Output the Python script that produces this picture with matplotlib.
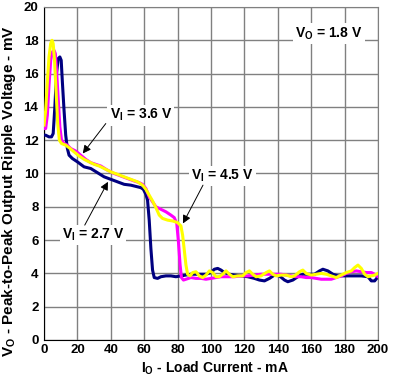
import matplotlib
matplotlib.use("Agg")
import matplotlib.pyplot as plt

plt.rcParams['font.family'] = ['Liberation Sans', 'DejaVu Sans']
plt.rcParams['font.weight'] = 'bold'
plt.rcParams['mathtext.fontset'] = 'custom'
plt.rcParams['mathtext.rm'] = 'Liberation Sans:bold'
plt.rcParams['mathtext.it'] = 'Liberation Sans:bold'
plt.rcParams['mathtext.bf'] = 'Liberation Sans:bold'

# V_I = 2.7 V (navy)
x27 = [0, 1, 3, 4.5, 5.5, 6.5, 7.5, 8.5, 9.5, 10.3, 11, 12, 13, 14, 15, 17, 20, 24, 28, 32, 36, 40, 44, 48, 52, 56, 58, 59.5, 61, 62, 63, 64, 65, 66, 68, 70, 73, 76, 79, 82, 85, 88, 91, 94, 97, 100, 102, 104, 106, 108, 111, 114, 118, 122, 126, 129, 132, 135, 138, 141, 144, 146, 149, 152, 155, 158, 162, 165, 167, 170, 173, 176, 180, 185, 190, 194, 196, 198, 200]
y27 = [12.3, 12.3, 12.2, 12.2, 12.4, 14.0, 16.0, 16.9, 17.0, 16.8, 15.5, 13.8, 12.3, 11.5, 11.1, 10.9, 10.7, 10.4, 10.3, 10.05, 9.8, 9.65, 9.5, 9.35, 9.3, 9.2, 9.15, 9.05, 8.75, 8.4, 7.2, 5.5, 4.2, 3.75, 3.7, 3.8, 3.85, 3.85, 3.8, 3.85, 3.9, 3.95, 3.95, 3.95, 3.95, 4.05, 4.25, 4.3, 4.2, 4.05, 3.95, 3.9, 3.85, 3.8, 3.7, 3.6, 3.55, 3.7, 3.9, 3.85, 3.6, 3.5, 3.6, 3.8, 3.95, 3.95, 3.95, 4.15, 4.25, 4.15, 3.95, 3.85, 3.85, 3.85, 3.85, 3.8, 3.55, 3.55, 3.8]

# V_I = 3.6 V (magenta)
x36 = [0, 1, 2, 3, 4, 5, 6, 6.8, 7.5, 8.5, 9.5, 10.5, 12, 14, 16, 19, 22, 25, 28, 31, 34, 38, 42, 46, 50, 54, 57, 59, 61, 63, 65, 67, 70, 73, 76, 78, 79.5, 80.5, 81.5, 82.3, 83.5, 85, 88, 91, 94, 97, 100, 103, 106, 110, 114, 118, 122, 126, 130, 134, 138, 142, 145, 148, 151, 154, 157, 160, 163, 166, 169, 172, 175, 178, 181, 184, 187, 190, 193, 196, 198, 200]
y36 = [12.7, 12.7, 13.5, 15.3, 16.8, 17.3, 17.4, 17.2, 16.2, 14.5, 12.8, 12.0, 11.8, 11.7, 11.5, 11.35, 11.1, 10.85, 10.65, 10.55, 10.45, 10.2, 10.0, 9.85, 9.7, 9.55, 9.45, 9.35, 9.1, 8.6, 8.3, 8.0, 7.85, 7.7, 7.5, 7.35, 7.0, 5.9, 4.5, 3.75, 3.6, 3.65, 3.75, 3.7, 3.7, 3.65, 3.7, 3.75, 3.8, 3.8, 3.8, 3.85, 3.85, 3.9, 3.95, 3.95, 3.95, 3.95, 3.9, 3.85, 3.8, 3.8, 3.75, 3.75, 3.7, 3.65, 3.65, 3.65, 3.75, 3.85, 4.0, 4.1, 4.15, 4.1, 4.05, 4.05, 3.95, 3.8]

# V_I = 4.5 V (yellow)
x45 = [0, 1, 2, 3, 4, 4.8, 5.5, 6.3, 7.2, 8.2, 9.2, 10.5, 13, 15, 18, 21, 24, 27, 30, 33, 36, 40, 44, 48, 52, 56, 59, 61, 63, 65, 67, 69, 71, 74, 77, 80, 82, 83, 84, 85, 86, 87.5, 89, 91, 93, 95, 97, 99, 101, 103, 105, 107, 109, 111, 113, 116, 119, 121, 123, 125, 127, 130, 133, 135, 137, 139, 142, 145, 148, 150, 153, 155, 157, 160, 163, 166, 169, 172, 175, 178, 181, 184, 186, 188, 190, 192, 194, 196, 198, 200]
y45 = [12.9, 13.8, 15.5, 17.0, 17.8, 18.0, 17.8, 16.8, 15.0, 13.0, 12.0, 11.8, 11.7, 11.55, 11.3, 11.05, 10.85, 10.7, 10.55, 10.45, 10.3, 10.1, 9.95, 9.8, 9.65, 9.5, 9.3, 9.05, 8.7, 8.35, 7.95, 7.5, 7.3, 7.2, 7.15, 7.05, 6.85, 6.3, 5.4, 4.5, 3.95, 3.85, 4.05, 4.1, 3.85, 3.75, 3.9, 4.15, 4.05, 3.8, 3.8, 3.95, 4.15, 3.95, 3.8, 3.85, 3.85, 4.05, 4.15, 3.95, 3.8, 3.85, 4.05, 4.15, 3.95, 3.85, 3.9, 3.9, 3.8, 3.85, 4.1, 4.2, 4.0, 3.9, 3.95, 4.0, 3.95, 3.85, 3.75, 3.9, 4.05, 4.15, 4.35, 4.5, 4.3, 3.95, 3.8, 3.85, 3.9, 4.0]

xticks = [0, 20, 40, 60, 80, 100, 120, 140, 160, 180, 200]
yticks = [0, 2, 4, 6, 8, 10, 12, 14, 16, 18, 20]

fig = plt.figure(figsize=(4.01, 3.82), dpi=100)
ax = fig.add_axes([44/401, 42/382, 334/401, 333/382])

ax.plot(x27, y27, color='#000080', lw=2.2, zorder=3)
ax.plot(x36, y36, color='#FF00FF', lw=2.2, zorder=4)
ax.plot(x45, y45, color='#FFFF00', lw=2.2, zorder=5)

ax.set_xlim(0, 200)
ax.set_ylim(0, 20)
ax.set_xticks(xticks)
ax.set_yticks(yticks)
ax.tick_params(length=0, labelsize=9.5)
ax.tick_params(axis='x', pad=3)
ax.tick_params(axis='y', pad=4)
for lbl in ax.get_xticklabels() + ax.get_yticklabels():
    lbl.set_fontweight('bold')
ax.grid(True, color='#808080', lw=1.0, zorder=1)
ax.set_axisbelow(True)
for s in ['top', 'right']:
    ax.spines[s].set_color('#808080')
for s in ['left', 'bottom']:
    ax.spines[s].set_color('black')

ax.set_xlabel(r"I$_{\mathrm{O}}$ - Load Current - mA", fontsize=10, fontweight='bold')
ax.xaxis.set_label_coords(0.513, -0.058)
ax.set_ylabel(r"V$_{\mathrm{O}}$ - Peak-to-Peak Output Ripple Voltage - mV", fontsize=11, fontweight='bold')
ax.yaxis.set_label_coords(-0.077, 0.446)

bbox = dict(boxstyle='square,pad=0.15', fc='white', ec='none')
aprops = dict(arrowstyle='-|>', color='black', lw=0.7, mutation_scale=12, shrinkA=0, shrinkB=0)

ax.text(170.5, 18.4, r"V$_{\mathrm{O}}$ = 1.8 V", fontsize=10, fontweight='bold',
        ha='center', va='center', bbox=bbox, zorder=6)

ax.text(58, 13.5, r"V$_{\mathrm{I}}$ = 3.6 V", fontsize=10, fontweight='bold',
        ha='center', va='center', bbox=bbox, zorder=6)
ax.annotate('', xy=(23.2, 11.2), xytext=(37.0, 13.0), arrowprops=aprops, zorder=7)

ax.text(107, 9.85, r"V$_{\mathrm{I}}$ = 4.5 V", fontsize=10, fontweight='bold',
        ha='center', va='center', bbox=bbox, zorder=6)
ax.annotate('', xy=(83.2, 7.0), xytext=(95.2, 9.3), arrowprops=aprops, zorder=7)

ax.text(29.3, 6.3, r"V$_{\mathrm{I}}$ = 2.7 V", fontsize=10, fontweight='bold',
        ha='center', va='center', bbox=bbox, zorder=6)
ax.annotate('', xy=(38.3, 9.5), xytext=(24.4, 6.9), arrowprops=aprops, zorder=7)

fig.savefig('out.png', dpi=100)
